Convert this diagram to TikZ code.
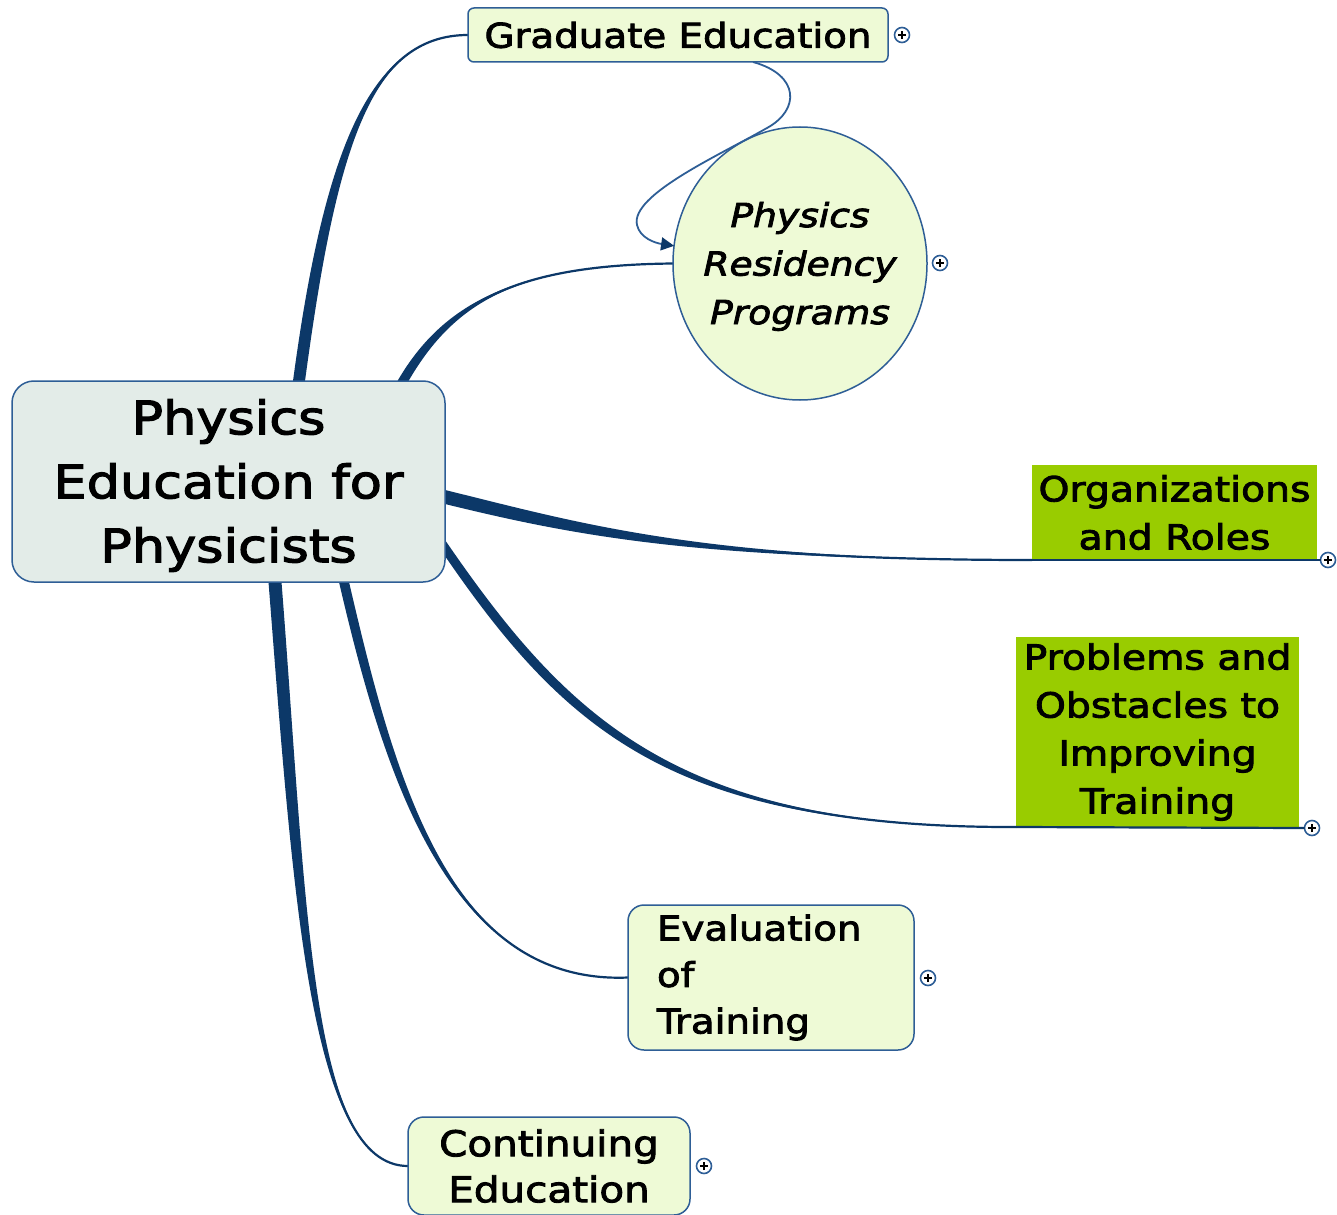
\documentclass[tikz,border=0pt]{standalone}
\usepackage{fontspec}
\setmainfont{DejaVu Sans}[FakeStretch=1.14, FakeBold=2.5]
\usetikzlibrary{shapes.geometric,arrows.meta,calc}
\pgfdeclarelayer{connlayer}
\pgfsetlayers{connlayer,main}
\definecolor{conn}{RGB}{12,56,104}
\definecolor{bord}{RGB}{46,94,150}
\definecolor{lightfill}{RGB}{238,250,214}
\definecolor{centfill}{RGB}{227,236,232}
\definecolor{leafgreen}{RGB}{153,204,0}
\tikzset{
  every node/.style={inner sep=0pt, outer sep=0pt},
  centralbox/.style={draw=bord, line width=1.5pt, fill=centfill, rounded corners=22pt,
    minimum width=433pt, minimum height=201pt, align=center,
    font=\fontsize{46}{64}\selectfont},
  topicbox/.style={draw=bord, line width=1.5pt, fill=lightfill, rounded corners=16pt,
    align=center, font=\fontsize{34}{46.5}\selectfont},
  gradbox/.style={draw=bord, line width=1.5pt, fill=lightfill, rounded corners=6pt,
    minimum width=420pt, minimum height=54pt, font=\fontsize{34}{46}\selectfont},
  circbox/.style={ellipse, draw=bord, line width=1.5pt, fill=lightfill, inner sep=-30pt,
    minimum width=254pt, minimum height=273pt, align=center,
    font=\fontsize{33}{48.5}\selectfont\itshape},
  greenbox/.style={fill=leafgreen, align=center, font=\fontsize{34.5}{48}\selectfont},
  thinconn/.style={draw=conn, line width=2.2pt},
  arrowconn/.style={draw=bord, line width=1.8pt, -{Triangle[length=13pt,width=13pt,color=conn]}},
  plusmark/.style={circle, draw=bord, fill=white, line width=1.6pt, minimum size=15pt,
    path picture={\draw[black, line width=1.2pt]
      (path picture bounding box.center) +(-4pt,0) -- +(4pt,0)
      (path picture bounding box.center) +(0,-4pt) -- +(0,4pt);}}
}
% tapered connector, start leaving vertically
\newcommand\taperV[5]{%
  \fill[conn] ([xshift=-#5]#1) .. controls ([xshift=-#5]#2) and (#3) .. (#4)
     .. controls (#3) and ([xshift=#5]#2) .. ([xshift=#5]#1) -- cycle;
  \draw[thinconn] (#1) .. controls (#2) and (#3) .. (#4);}
% tapered connector, start leaving horizontally
\newcommand\taperH[5]{%
  \fill[conn] ([yshift=-#5]#1) .. controls ([yshift=-#5]#2) and (#3) .. (#4)
     .. controls (#3) and ([yshift=#5]#2) .. ([yshift=#5]#1) -- cycle;
  \draw[thinconn] (#1) .. controls (#2) and (#3) .. (#4);}
\newcommand\lift[1]{\rule{0pt}{#1}}
\begin{document}
\begin{tikzpicture}[x=1pt, y=-1pt]
\useasboundingbox (0,0) rectangle (1337,1214);

% topics
\node[centralbox] (central) at (228.5,481.5) {\lift{43pt}Physics\\Education for\\Physicists};
\node[gradbox] (grad) at (678,35) {Graduate Education};
\node[circbox] (circ) at (800,263.5) {\lift{31pt}Physics\\Residency\\Programs};
\node[greenbox, minimum width=285pt, minimum height=95pt] (org) at (1174.5,512.5) {Organizations\\and Roles};
\node[greenbox, minimum width=283pt, minimum height=190pt] (prob) at (1157.5,732) {Problems and\\Obstacles to\\Improving\\Training};
\node[topicbox, align=left, text width=228pt, inner xsep=29pt, minimum height=145pt] (eval) at (771,977.5) {Evaluation\\of\\Training};
\node[topicbox, minimum width=282pt, minimum height=98pt, font=\fontsize{35.5}{46}\selectfont] (cont) at (549,1166) {Continuing\\Education};

% connectors, on a layer beneath the topics
\begin{pgfonlayer}{connlayer}
\fill[white] (0,0) rectangle (1337,1214);
\coordinate (s1) at ([xshift=287pt]central.north west);
\coordinate (s2) at ([xshift=391pt]central.north west);
\coordinate (s3) at ([yshift=-116pt]central.north east);
\coordinate (s4) at ([yshift=-167pt]central.north east);
\coordinate (s5) at ([xshift=332pt]central.south west);
\coordinate (s6) at ([xshift=263pt]central.south west);
\taperV{s1}{330,150}{370,35}{grad.west}{6pt}
\taperV{s2}{450,300}{520,265}{circ.west}{5.5pt}
\taperH{s3}{580,530}{700,560}{org.south west}{7pt}
\taperH{s4}{570,730}{680,828}{prob.south west}{8pt}
\taperV{s5}{390,780}{450,985}{eval.west}{5pt}
\taperV{s6}{300,900}{310,1166}{cont.west}{6.5pt}
\end{pgfonlayer}

% collapse markers
\node[plusmark] (p1) at (902,35) {};
\node[plusmark] (p2) at (940,263) {};
\node[plusmark] (p3) at (1328,560) {};
\node[plusmark] (p4) at (1312,828) {};
\node[plusmark] (p5) at (928,978) {};
\node[plusmark] (p6) at (704,1166) {};

% underlines of the green topics
\draw[thinconn] (org.south west) -- (p3.west);
\draw[thinconn] (prob.south west) -- (p4.west);

% relationship arrow
\draw[arrowconn] ([xshift=75pt]grad.south) .. controls (800,75) and (800,110) .. (767,128)
   .. controls (720,155) and (630,195) .. (637,225)
   .. controls (640,238) and (655,243) .. (circ.172);
\end{tikzpicture}
\end{document}
